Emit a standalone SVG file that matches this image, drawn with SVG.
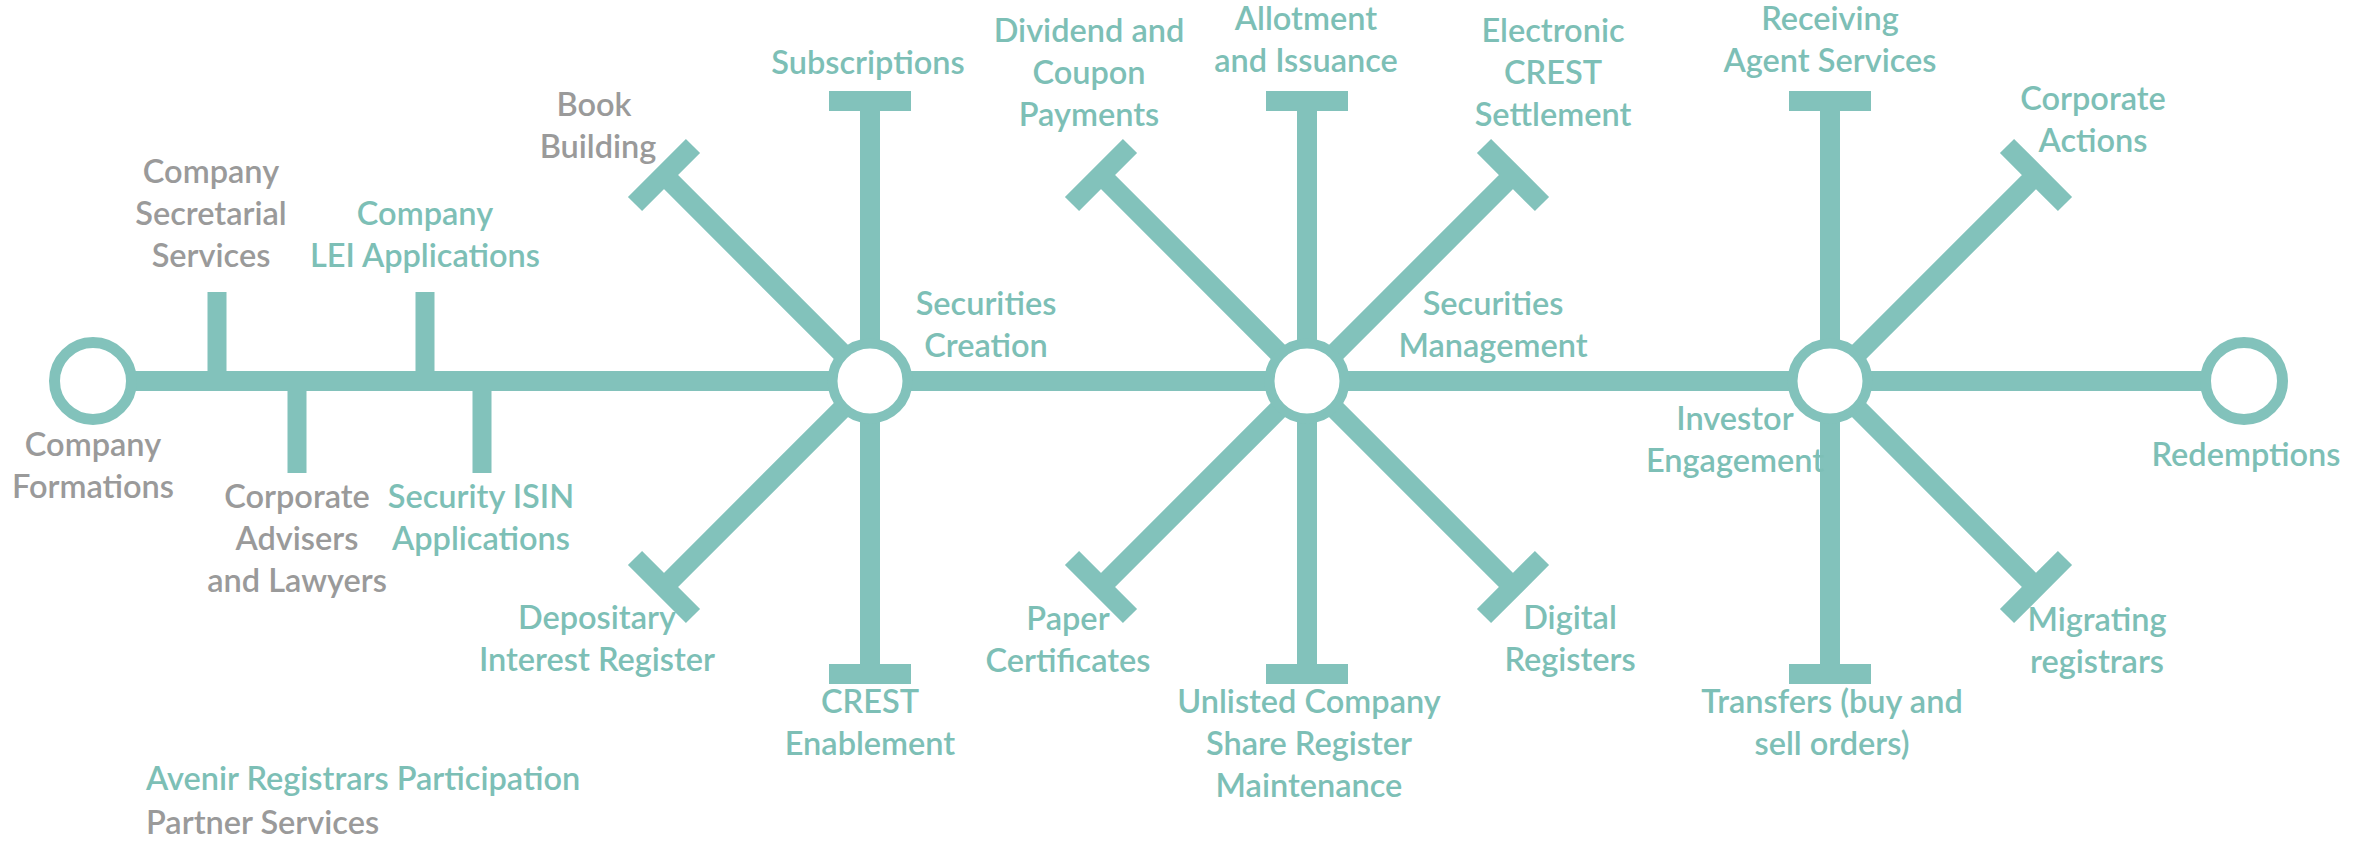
<svg xmlns="http://www.w3.org/2000/svg" width="2364" height="842" viewBox="0 0 2364 842">
<style>
.ln{stroke:#82c2bb;stroke-width:20;fill:none;stroke-linecap:butt}
.tk{stroke:#82c2bb;stroke-width:19;fill:none}
.hub{fill:#fff;stroke:#82c2bb;stroke-width:10}
.end{fill:#fff;stroke:#82c2bb;stroke-width:11}
text{font-family:Lato,"Liberation Sans",sans-serif;font-size:32.5px;font-weight:600;text-anchor:middle}
.t{fill:#7dbfb6}
.g{fill:#9a9a9a}
.l{text-anchor:start}
</style>
<rect width="2364" height="842" fill="#fff"/>
<g id="connectors">
  <line class="ln" x1="93" y1="381" x2="2244" y2="381"/>
  <line class="tk" x1="217" y1="381" x2="217" y2="292"/>
  <line class="tk" x1="425" y1="381" x2="425" y2="292"/>
  <line class="tk" x1="297" y1="381" x2="297" y2="473"/>
  <line class="tk" x1="482" y1="381" x2="482" y2="473"/>
  <path class="ln" d="M870 381V101M829 101H911"/>
  <path class="ln" d="M870 381V674M829 674H911"/>
  <path class="ln" d="M870 381L664 175M635 204L693 146"/>
  <path class="ln" d="M870 381L664 587M635 558L693 616"/>
  <path class="ln" d="M1307 381V101M1266 101H1348"/>
  <path class="ln" d="M1307 381V674M1266 674H1348"/>
  <path class="ln" d="M1307 381L1101 175M1072 204L1130 146"/>
  <path class="ln" d="M1307 381L1513 175M1484 146L1542 204"/>
  <path class="ln" d="M1307 381L1101 587M1072 558L1130 616"/>
  <path class="ln" d="M1307 381L1513 587M1484 616L1542 558"/>
  <path class="ln" d="M1830 381V101M1789 101H1871"/>
  <path class="ln" d="M1830 381V674M1789 674H1871"/>
  <path class="ln" d="M1830 381L2036 175M2007 146L2065 204"/>
  <path class="ln" d="M1830 381L2036 587M2007 616L2065 558"/>
</g>
<g id="company-formations">
  <circle class="end" cx="93" cy="381" r="38.5"/>
  <text class="g" x="93" y="456">Company</text>
  <text class="g" x="93" y="498">Formations</text>
</g>
<g id="company-secretarial">
  <text class="g" x="211" y="183">Company</text>
  <text class="g" x="211" y="225">Secretarial</text>
  <text class="g" x="211" y="267">Services</text>
</g>
<g id="lei-applications">
  <text class="t" x="425" y="225">Company</text>
  <text class="t" x="425" y="267">LEI Applications</text>
</g>
<g id="corporate-advisers">
  <text class="g" x="297" y="508">Corporate</text>
  <text class="g" x="297" y="550">Advisers</text>
  <text class="g" x="297" y="592">and Lawyers</text>
</g>
<g id="isin-applications">
  <text class="t" x="481" y="508">Security ISIN</text>
  <text class="t" x="481" y="550">Applications</text>
</g>
<g id="securities-creation">
  <circle class="hub" cx="870" cy="381" r="37.5"/>
  <text class="t" x="986" y="315">Securities</text>
  <text class="t" x="986" y="357">Creation</text>
</g>
<g id="book-building">
  <text class="g" x="594" y="116">Book</text>
  <text class="g" x="598" y="158">Building</text>
</g>
<g id="subscriptions">
  <text class="t" x="868" y="74">Subscriptions</text>
</g>
<g id="depositary">
  <text class="t" x="597" y="629">Depositary</text>
  <text class="t" x="597" y="671">Interest Register</text>
</g>
<g id="crest-enablement">
  <text class="t" x="870" y="713">CREST</text>
  <text class="t" x="870" y="755">Enablement</text>
</g>
<g id="securities-management">
  <circle class="hub" cx="1307" cy="381" r="37.5"/>
  <text class="t" x="1493" y="315">Securities</text>
  <text class="t" x="1493" y="357">Management</text>
</g>
<g id="dividend">
  <text class="t" x="1089" y="42">Dividend and</text>
  <text class="t" x="1089" y="84">Coupon</text>
  <text class="t" x="1089" y="126">Payments</text>
</g>
<g id="allotment">
  <text class="t" x="1306" y="30">Allotment</text>
  <text class="t" x="1306" y="72">and Issuance</text>
</g>
<g id="electronic-crest">
  <text class="t" x="1553" y="42">Electronic</text>
  <text class="t" x="1553" y="84">CREST</text>
  <text class="t" x="1553" y="126">Settlement</text>
</g>
<g id="paper-certificates">
  <text class="t" x="1068" y="630">Paper</text>
  <text class="t" x="1068" y="672">Certificates</text>
</g>
<g id="unlisted-company">
  <text class="t" x="1309" y="713">Unlisted Company</text>
  <text class="t" x="1309" y="755">Share Register</text>
  <text class="t" x="1309" y="797">Maintenance</text>
</g>
<g id="digital-registers">
  <text class="t" x="1570" y="629">Digital</text>
  <text class="t" x="1570" y="671">Registers</text>
</g>
<g id="investor-engagement">
  <circle class="hub" cx="1830" cy="381" r="37.5"/>
  <text class="t" x="1735" y="430">Investor</text>
  <text class="t" x="1735" y="472">Engagement</text>
</g>
<g id="receiving-agent">
  <text class="t" x="1830" y="30">Receiving</text>
  <text class="t" x="1830" y="72">Agent Services</text>
</g>
<g id="corporate-actions">
  <text class="t" x="2093" y="110">Corporate</text>
  <text class="t" x="2093" y="152">Actions</text>
</g>
<g id="transfers">
  <text class="t" x="1832" y="713">Transfers (buy and</text>
  <text class="t" x="1832" y="755">sell orders)</text>
</g>
<g id="migrating-registrars">
  <text class="t" x="2097" y="631">Migrating</text>
  <text class="t" x="2097" y="673">registrars</text>
</g>
<g id="redemptions">
  <circle class="end" cx="2244" cy="381" r="38.5"/>
  <text class="t" x="2246" y="466">Redemptions</text>
</g>
<g id="legend">
  <text class="t l" x="146" y="790">Avenir Registrars Participation</text>
  <text class="g l" x="146" y="834">Partner Services</text>
</g>
</svg>
